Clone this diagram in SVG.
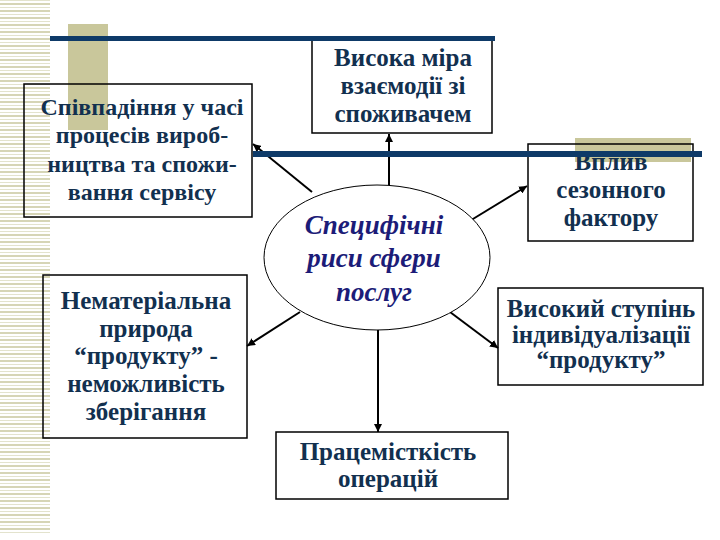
<svg xmlns="http://www.w3.org/2000/svg" width="720" height="540" viewBox="0 0 720 540">
<defs>
<pattern id="stripes" x="0" y="3" width="50" height="7" patternUnits="userSpaceOnUse">
<rect x="0" y="0" width="50" height="2" fill="#d6d5b6"/>
<rect x="0" y="4" width="50" height="1" fill="#e3e3cd"/>
</pattern>
<marker id="arr" viewBox="0 0 10 10" refX="10" refY="5" markerWidth="8" markerHeight="8" markerUnits="userSpaceOnUse" orient="auto">
<path d="M0,0 L10,5 L0,10 z" fill="#000"/>
</marker>
<style>
.box{fill:none;stroke:#000;stroke-width:1.5}
.t{font-weight:bold;font-size:25px;fill:#12304f;text-anchor:middle}
.s{font-size:24px}
.e{font-weight:bold;font-style:italic;font-size:27px;fill:#1c1c78;text-anchor:middle}
.c{stroke:#000;stroke-width:2;fill:none;marker-end:url(#arr)}
.bar{fill:#0e3a68}
.tan{fill:#c9c79b}
</style>
</defs>
<rect width="720" height="540" fill="#fff"/>
<g id="decor">
<rect x="0" y="0" width="50" height="535" fill="url(#stripes)"/>
<rect class="tan" x="68" y="24" width="40" height="106"/>
<rect class="tan" x="575" y="138" width="116" height="24"/>
</g>
<g id="connectors">
<line class="c" x1="389" y1="186" x2="389" y2="134"/>
<line class="c" x1="312" y1="192" x2="253" y2="144"/>
<line class="c" x1="468" y1="222" x2="527" y2="186"/>
<line class="c" x1="450" y1="312" x2="498" y2="348"/>
<line class="c" x1="300" y1="312" x2="247" y2="346"/>
<line class="c" x1="378" y1="330" x2="378" y2="432"/>
</g>
<g font-family="Liberation Serif, DejaVu Serif, serif">
<g id="n-ellipse">
<ellipse cx="377" cy="257.500" rx="113" ry="72.500" fill="#fff" stroke="#000" stroke-width="1"/>
<text class="e" x="374" y="234">Специфічні</text>
<text class="e" x="374" y="267">риси сфери</text>
<text class="e" x="374" y="301">послуг</text>
</g>
<g id="n-coincide">
<rect class="box" x="24" y="84" width="228" height="133"/>
<text class="t s" x="142" y="115">Співпадіння у часі</text>
<text class="t s" x="142" y="143">процесів вироб-</text>
<text class="t s" x="142" y="172">ництва та спожи-</text>
<text class="t s" x="142" y="200">вання сервісу</text>
</g>
<g id="n-interact">
<rect class="box" x="312" y="37" width="180" height="96"/>
<text class="t" x="403" y="66">Висока міра</text>
<text class="t" x="403" y="94">взаємодії зі</text>
<text class="t" x="403" y="122">споживачем</text>
</g>
<g id="n-season">
<rect class="box" x="528" y="144" width="165" height="97"/>
<text class="t" x="611" y="170">Вплив</text>
<text class="t" x="611" y="198">сезонного</text>
<text class="t" x="611" y="226">фактору</text>
</g>
<g id="n-intangible">
<rect class="box" x="43" y="275" width="204" height="163"/>
<text class="t" x="146" y="309">Нематеріальна</text>
<text class="t" x="146" y="337">природа</text>
<text class="t" x="146" y="364">“продукту” -</text>
<text class="t" x="146" y="392">неможливість</text>
<text class="t" x="146" y="420">зберігання</text>
</g>
<g id="n-individual">
<rect class="box" x="498" y="288" width="205" height="97"/>
<text class="t" x="601" y="317">Високий ступінь</text>
<text class="t" x="601" y="343">індивідуалізації</text>
<text class="t" x="601" y="368">“продукту”</text>
</g>
<g id="n-labour">
<rect class="box" x="276" y="432" width="232" height="67"/>
<text class="t" x="388" y="460">Працемісткість</text>
<text class="t" x="388" y="487">операцій</text>
</g>
</g>
<g id="bars">
<rect class="bar" x="50" y="36" width="445" height="5"/>
<rect class="bar" x="253" y="151" width="449" height="6"/>
</g>
</svg>
